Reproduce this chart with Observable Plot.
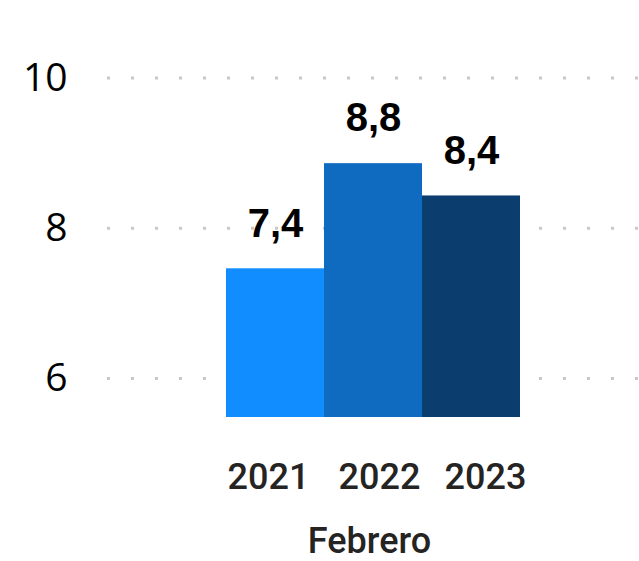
<!DOCTYPE html>
<html>
<head>
<meta charset="utf-8">
<script src="https://cdn.jsdelivr.net/npm/d3@7"></script>
<script src="https://cdn.jsdelivr.net/npm/@observablehq/plot@0.6"></script>
<style>
  html, body { margin: 0; padding: 0; background: #fff; }
  #chart svg { display: block; }
</style>
</head>
<body>
<div id="chart"></div>
<script>
const years = ["2021", "2022", "2023"];
const values = [7.46, 8.86, 8.43];
const valueLabels = ["7,4", "8,8", "8,4"];
const barColors = ["#118DFF", "#0F6BC0", "#0B3D6F"];
const yTicks = [6, 8, 10];
const axisTitle = "Febrero";
const yMin = 5.48, yMax = 10.5;

const data = years.map((y, i) => ({year: y, value: values[i], label: valueLabels[i], color: barColors[i]}));
const labelOffsets = [-7, 6, 14];

const plot = Plot.plot({
  width: 639,
  height: 561,
  marginLeft: 107,
  marginRight: 0,
  marginTop: 40,
  marginBottom: 144,
  style: {background: "#fff", color: "#000", overflow: "visible"},
  x: {type: "band", domain: years, range: [226, 520], padding: 0, axis: null},
  y: {domain: [yMin, yMax], axis: null},
  marks: [
    Plot.ruleY(yTicks, {stroke: "#c8c8c8", strokeWidth: 3, strokeDasharray: "3 21"}),
    Plot.axisY(yTicks, {tickSize: 0, tickPadding: 40, fontSize: 39, fontFamily: "'Open Sans', sans-serif", fill: "#000", label: null, tickFormat: d => String(d)}),
    Plot.barY(data, {x: "year", y1: yMin, y2: "value", fill: "color", inset: 0}),
    Plot.text(data, {x: "year", y: "value", text: "label", dy: -45, fontSize: 40, fontWeight: "bold", fontFamily: "'Liberation Sans', Arial, sans-serif", fill: "#000"}),
    ...years.map((yr, i) => Plot.text([yr], {x: d => d, text: d => d, frameAnchor: "bottom", lineAnchor: "bottom", dy: 71, dx: labelOffsets[i], fontSize: 36, fontWeight: 500, fontFamily: "Roboto, sans-serif", fill: "#252423", letterSpacing: 1})),
    Plot.text([axisTitle], {frameAnchor: "bottom", lineAnchor: "bottom", text: d => d, dy: 135, dx: -4, fontSize: 36, fontWeight: 500, fontFamily: "Roboto, sans-serif", fill: "#252423", letterSpacing: 1})
  ]
});
document.getElementById("chart").appendChild(plot);
</script>
</body>
</html>
